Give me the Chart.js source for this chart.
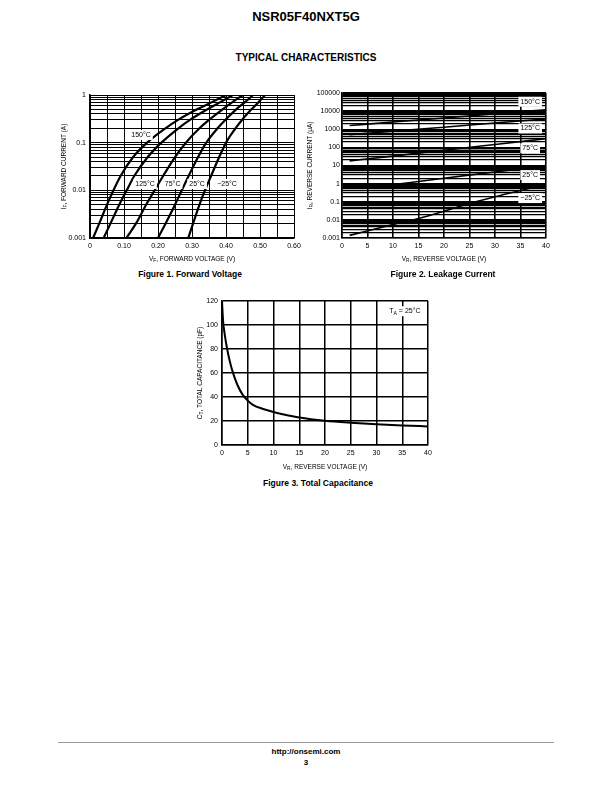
<!DOCTYPE html>
<html>
<head>
<meta charset="utf-8">
<script src="https://cdn.jsdelivr.net/npm/chart.js@4.4.1/dist/chart.umd.min.js"></script>
<style>
body { margin: 0; background: #fff; font-family: "Liberation Sans", Arial, sans-serif; color: #000; }
#page { position: relative; width: 612px; height: 792px; overflow: hidden; }
.t { position: absolute; white-space: nowrap; font-weight: bold; transform: translate(-50%, -50%); }
canvas { position: absolute; }
</style>
</head>
<body>
<div id="page">
  <div class="t" style="left:306px;top:16px;font-size:13px">NSR05F40NXT5G</div>
  <div class="t" style="left:306px;top:57px;font-size:10px">TYPICAL CHARACTERISTICS</div>

  <canvas id="fig1" width="250" height="180" style="left:55px;top:85px"></canvas>
  <canvas id="fig2" width="255" height="180" style="left:300px;top:85px"></canvas>
  <canvas id="fig3" width="250" height="185" style="left:190px;top:290px"></canvas>

  <div class="t" style="left:190px;top:274px;font-size:8.5px">Figure 1. Forward Voltage</div>
  <div class="t" style="left:443px;top:274px;font-size:8.5px">Figure 2. Leakage Current</div>
  <div class="t" style="left:318px;top:483px;font-size:8.5px">Figure 3. Total Capacitance</div>

  <div style="position:absolute;left:58px;top:742px;width:496px;border-top:1px solid #999"></div>
  <div class="t" style="left:306px;top:751px;font-size:8px">http://onsemi.com</div>
  <div class="t" style="left:306px;top:762px;font-size:8px">3</div>
</div>

<script>
// ---- Données ----

// Figure 1 : tension directe (V) pour chaque courant (A)
const fwdCurrent = [0.001, 0.002, 0.005, 0.01, 0.02, 0.05, 0.1, 0.2, 0.3, 0.5, 0.7, 1];
const vf150 = [0.009, 0.027, 0.050, 0.069, 0.090, 0.127, 0.168, 0.222, 0.259, 0.315, 0.357, 0.400];
const vf125 = [0.040, 0.060, 0.086, 0.108, 0.130, 0.170, 0.210, 0.260, 0.294, 0.345, 0.382, 0.420];
const vf75  = [0.107, 0.135, 0.165, 0.190, 0.215, 0.250, 0.282, 0.322, 0.350, 0.390, 0.418, 0.450];
const vf25  = [0.200, 0.222, 0.250, 0.270, 0.290, 0.318, 0.342, 0.375, 0.398, 0.430, 0.455, 0.480];
const vfm25 = [0.289, 0.303, 0.322, 0.338, 0.356, 0.380, 0.400, 0.428, 0.447, 0.475, 0.495, 0.515];
const vfTicks = [0, 0.05, 0.10, 0.15, 0.20, 0.25, 0.30, 0.35, 0.40, 0.45, 0.50, 0.55, 0.60];
const vfTickLabels = ['0', '', '0.10', '', '0.20', '', '0.30', '', '0.40', '', '0.50', '', '0.60'];

// Figure 2 : courant inverse (µA) selon la tension inverse (V)
const irVolt = [1.5, 10, 20, 30, 40];
const ir150 = [1600, 2500, 4200, 7100, 12000];
const ir125 = [500, 780, 1300, 2200, 3700];
const ir75  = [18, 33, 70, 145, 300];
const ir25Volt = [9, 20, 30, 40];
const ir25 = [0.8, 2, 4.4, 10];
const irm25Volt = [1.5, 10, 15, 20, 25, 30, 35, 40];
const irm25 = [0.0014, 0.0055, 0.012, 0.03, 0.08, 0.19, 0.42, 0.9];
const vrTicks = [0, 5, 10, 15, 20, 25, 30, 35, 40];

// Figure 3 : capacité totale (pF) selon la tension inverse (V)
const capVolt = [0, 0.2, 0.5, 1, 1.5, 2, 3, 4, 5, 6, 8, 10, 12, 15, 20, 25, 30, 35, 40];
const capPf = [120, 104, 93, 80, 70, 62, 50, 42, 37, 33.5, 30, 27.5, 25.5, 23, 20.3, 18.6, 17.3, 16.3, 15.5];
const capTicks = [0, 20, 40, 60, 80, 100, 120];

const tempLabels = ['150°C', '125°C', '75°C', '25°C', '−25°C'];

// ---- Outils ----
const FONT = '"Liberation Sans", Arial, sans-serif';

function logTicks(min, max) {
    const out = [];
    for (let e = Math.round(Math.log10(min)); e < Math.round(Math.log10(max)); e++) {
        for (let s = 1; s < 10; s++) out.push(Number((s * Math.pow(10, e)).toPrecision(2)));
    }
    out.push(max);
    return out;
}
function decadeLabel(v) {
    const l = Math.log10(v);
    return Math.abs(l - Math.round(l)) < 1e-9 ? String(Number(v.toPrecision(1))) : '';
}
function pts(xs, ys) { return xs.map((x, i) => ({x: x, y: ys[i]})); }

// texte avec indice (I_F, V_R ...)
function drawRich(ctx, parts, x, y, size, rot) {
    ctx.save();
    ctx.translate(x, y);
    if (rot) ctx.rotate(-Math.PI / 2);
    const sub = size * 0.75;
    let w = 0;
    parts.forEach(p => { ctx.font = (p.sub ? sub : size) + 'px ' + FONT; w += ctx.measureText(p.t).width; });
    let cx = -w / 2;
    ctx.textAlign = 'left';
    ctx.textBaseline = 'middle';
    ctx.fillStyle = '#000';
    parts.forEach(p => {
        ctx.font = (p.sub ? sub : size) + 'px ' + FONT;
        ctx.fillText(p.t, cx, p.sub ? size * 0.3 : 0);
        cx += ctx.measureText(p.t).width;
    });
    ctx.restore();
    return w;
}

const sheetText = {
    id: 'sheetText',
    afterDatasetsDraw(chart, args, opts) {
        const ctx = chart.ctx;
        (opts.tags || []).forEach(tag => {
            const px = chart.scales.x.getPixelForValue(tag.x);
            const py = chart.scales.y.getPixelForValue(tag.y);
            ctx.save();
            let w = 0;
            tag.parts.forEach(p => { ctx.font = (p.sub ? 5.25 : 7) + 'px ' + FONT; w += ctx.measureText(p.t).width; });
            ctx.fillStyle = '#fff';
            ctx.fillRect(px - w / 2 - 2, py - 5, w + 4, 10);
            ctx.restore();
            drawRich(ctx, tag.parts, px, py, 7, false);
        });
    },
    afterDraw(chart, args, opts) {
        const a = chart.chartArea;
        drawRich(chart.ctx, opts.xTitle, (a.left + a.right) / 2, a.bottom + opts.xGap, 6.5, false);
        drawRich(chart.ctx, opts.yTitle, a.left - opts.yGap, (a.top + a.bottom) / 2, 6.5, true);
    }
};

function line(data, width) {
    return {
        data: data, showLine: true, borderColor: '#000', borderWidth: width,
        pointRadius: 0, fill: false, cubicInterpolationMode: 'monotone'
    };
}
function tickFont() { return {size: 7, family: FONT}; }

function axis(extra, gridWidth, fitFn) {
    return Object.assign({
        ticks: {autoSkip: false, maxRotation: 0, color: '#000', font: tickFont(), padding: 4},
        grid: {color: '#000', lineWidth: gridWidth, drawTicks: false},
        border: {color: '#000', width: 1.5},
        afterFit: fitFn
    }, extra);
}

function plain(parts) { return parts.map(p => typeof p === 'string' ? {t: p} : p); }

// ---- Figure 1 ----
new Chart(document.getElementById('fig1'), {
    type: 'scatter',
    data: {
        datasets: [vf150, vf125, vf75, vf25, vfm25].map(v => line(pts(v, fwdCurrent), 2.2))
    },
    options: {
        responsive: false, animation: false, events: [],
        layout: {padding: {top: 10, right: 11, left: 0, bottom: 0}},
        plugins: {
            legend: {display: false}, tooltip: {enabled: false},
            sheetText: {
                xGap: 21, yGap: 26,
                xTitle: plain(['V', {t: 'F', sub: true}, ', FORWARD VOLTAGE (V)']),
                yTitle: plain(['I', {t: 'F', sub: true}, ', FORWARD CURRENT (A)']),
                tags: [
                    {x: 0.150, y: 0.145, parts: plain([tempLabels[0]])},
                    {x: 0.162, y: 0.0136, parts: plain([tempLabels[1]])},
                    {x: 0.243, y: 0.0136, parts: plain([tempLabels[2]])},
                    {x: 0.315, y: 0.0136, parts: plain([tempLabels[3]])},
                    {x: 0.403, y: 0.0136, parts: plain([tempLabels[4]])}
                ]
            }
        },
        scales: {
            x: axis({
                type: 'linear', min: 0, max: 0.6,
                afterBuildTicks: s => { s.ticks = vfTicks.map(v => ({value: v})); },
                ticks: {autoSkip: false, maxRotation: 0, color: '#000', font: tickFont(), padding: 4,
                        callback: (v, i) => vfTickLabels[i]}
            }, 1, s => { s.height = 27; }),
            y: axis({
                type: 'logarithmic', min: 0.001, max: 1,
                afterBuildTicks: s => { s.ticks = logTicks(0.001, 1).map(v => ({value: v})); },
                ticks: {autoSkip: false, color: '#000', font: tickFont(), padding: 4,
                        callback: v => decadeLabel(v)}
            }, 1, s => { s.width = 35; })
        }
    },
    plugins: [sheetText]
});

// ---- Figure 2 ----
new Chart(document.getElementById('fig2'), {
    type: 'scatter',
    data: {
        datasets: [
            line(pts(irVolt, ir150), 1.6),
            line(pts(irVolt, ir125), 1.6),
            line(pts(irVolt, ir75), 1.6),
            line(pts(ir25Volt, ir25), 1.6),
            line(pts(irm25Volt, irm25), 1.6)
        ]
    },
    options: {
        responsive: false, animation: false, events: [],
        layout: {padding: {top: 8, right: 9, left: 0, bottom: 0}},
        plugins: {
            legend: {display: false}, tooltip: {enabled: false},
            sheetText: {
                xGap: 21, yGap: 32,
                xTitle: plain(['V', {t: 'R', sub: true}, ', REVERSE VOLTAGE (V)']),
                yTitle: plain(['I', {t: 'R', sub: true}, ', REVERSE CURRENT (μA)']),
                tags: [
                    {x: 36.9, y: 33000, parts: plain([tempLabels[0]])},
                    {x: 36.9, y: 1100, parts: plain([tempLabels[1]])},
                    {x: 36.9, y: 89, parts: plain([tempLabels[2]])},
                    {x: 36.9, y: 2.95, parts: plain([tempLabels[3]])},
                    {x: 36.9, y: 0.16, parts: plain([tempLabels[4]])}
                ]
            }
        },
        scales: {
            x: axis({
                type: 'linear', min: 0, max: 40,
                afterBuildTicks: s => { s.ticks = vrTicks.map(v => ({value: v})); },
                grid: {color: '#000', lineWidth: 1.6, drawTicks: false}
            }, 1.6, s => { s.height = 27; }),
            y: axis({
                type: 'logarithmic', min: 0.001, max: 100000,
                afterBuildTicks: s => { s.ticks = logTicks(0.001, 100000).map(v => ({value: v})); },
                ticks: {autoSkip: false, color: '#000', font: tickFont(), padding: 2,
                        callback: v => decadeLabel(v)}
            }, 1.3, s => { s.width = 42; })
        }
    },
    plugins: [sheetText]
});

// ---- Figure 3 ----
new Chart(document.getElementById('fig3'), {
    type: 'scatter',
    data: {datasets: [line(pts(capVolt, capPf), 2)]},
    options: {
        responsive: false, animation: false, events: [],
        layout: {padding: {top: 11, right: 12, left: 0, bottom: 0}},
        plugins: {
            legend: {display: false}, tooltip: {enabled: false},
            sheetText: {
                xGap: 22, yGap: 22,
                xTitle: plain(['V', {t: 'R', sub: true}, ', REVERSE VOLTAGE (V)']),
                yTitle: plain(['C', {t: 'T', sub: true}, ', TOTAL CAPACITANCE (pF)']),
                tags: [{x: 35.5, y: 111.5, parts: plain(['T', {t: 'A', sub: true}, ' = 25°C'])}]
            }
        },
        scales: {
            x: axis({
                type: 'linear', min: 0, max: 40,
                afterBuildTicks: s => { s.ticks = vrTicks.map(v => ({value: v})); }
            }, 1.5, s => { s.height = 30; }),
            y: axis({
                type: 'linear', min: 0, max: 120,
                afterBuildTicks: s => { s.ticks = capTicks.map(v => ({value: v})); }
            }, 1.5, s => { s.width = 32; })
        }
    },
    plugins: [sheetText]
});
</script>
</body>
</html>
